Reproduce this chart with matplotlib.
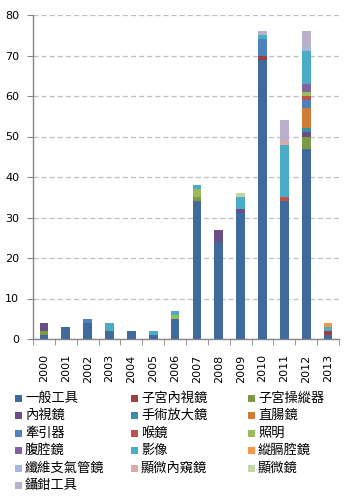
import matplotlib
matplotlib.use("Agg")
import matplotlib.pyplot as plt
import numpy as np
from matplotlib.patches import Rectangle

plt.rcParams['font.family'] = ['Noto Sans CJK TC', 'DejaVu Sans']

years = ['2000', '2001', '2002', '2003', '2004', '2005', '2006',
         '2007', '2008', '2009', '2010', '2011', '2012', '2013']

categories = ['一般工具', '子宮內視鏡', '子宮操縱器', '內視鏡', '手術放大鏡', '直腸鏡',
              '牽引器', '喉鏡', '照明', '腹腔鏡', '影像', '縱膈腔鏡',
              '纖維支氣管鏡', '顯微內窺鏡', '顯微鏡', '鑷鉗工具']

colors = ['#3F6A9B', '#A0403E', '#7E9A47', '#6A4F87', '#3A8EA5', '#D07C36',
          '#4F81BD', '#C0504D', '#9BBB59', '#8064A2', '#4BACC6', '#F79646',
          '#A7B9DB', '#DBA9A8', '#C4D5A8', '#B9B0CC']

# values per category, one entry per year 2000..2013
v_general    = [1, 3, 4, 2, 2, 1, 5, 34, 24, 31, 69, 34, 47, 1]
v_hysteroscope = [0, 0, 0, 0, 0, 0, 0, 0, 0, 0, 1, 0, 0, 1]
v_manipulator = [1, 0, 0, 0, 0, 0, 0, 1, 0, 0, 0, 0, 3, 0]
v_endoscope  = [2, 0, 0, 0, 0, 0, 0, 0, 3, 1, 0, 0, 1, 0]
v_loupe      = [0, 0, 0, 0, 0, 0, 0, 0, 0, 0, 0, 0, 1, 0]
v_proctoscope = [0, 0, 0, 0, 0, 0, 0, 0, 0, 0, 0, 0, 5, 0]
v_retractor  = [0, 0, 1, 0, 0, 0, 0, 0, 0, 0, 4, 0, 2, 0]
v_laryngoscope = [0, 0, 0, 0, 0, 0, 0, 0, 0, 0, 0, 1, 1, 0]
v_lighting   = [0, 0, 0, 0, 0, 0, 1, 2, 0, 0, 0, 0, 1, 0]
v_laparoscope = [0, 0, 0, 0, 0, 0, 0, 0, 0, 0, 0, 0, 2, 0]
v_imaging    = [0, 0, 0, 2, 0, 1, 1, 1, 0, 3, 1, 13, 8, 1]
v_mediastinoscope = [0, 0, 0, 0, 0, 0, 0, 0, 0, 0, 0, 0, 0, 1]
v_bronchoscope = [0, 0, 0, 0, 0, 0, 0, 0, 0, 0, 0, 0, 1, 0]
v_micro_endo = [0, 0, 0, 0, 0, 0, 0, 0, 0, 0, 0, 1, 0, 0]
v_microscope = [0, 0, 0, 0, 0, 0, 0, 0, 0, 1, 0, 0, 0, 0]
v_forceps    = [0, 0, 0, 0, 0, 0, 0, 0, 0, 0, 1, 5, 4, 0]

series = [v_general, v_hysteroscope, v_manipulator, v_endoscope, v_loupe,
          v_proctoscope, v_retractor, v_laryngoscope, v_lighting, v_laparoscope,
          v_imaging, v_mediastinoscope, v_bronchoscope, v_micro_endo,
          v_microscope, v_forceps]

W, H = 346, 497
fig = plt.figure(figsize=(W / 100, H / 100), dpi=100)
ax = fig.add_axes([33 / W, 1 - 339 / H, (339 - 33) / W, (339 - 15) / H])

x = np.arange(len(years))
bottom = np.zeros(len(years))
for vals, col in zip(series, colors):
    vals = np.array(vals, dtype=float)
    ax.bar(x, vals, width=0.4, bottom=bottom, color=col, linewidth=0, zorder=3)
    bottom += vals

ax.set_xlim(-0.5, len(years) - 0.5)
ax.set_ylim(0, 80)
ax.set_yticks(np.arange(0, 81, 10))
ax.yaxis.grid(True, linestyle=(0, (4, 2.5)), color='#BFBFBF', linewidth=0.9, zorder=0)
ax.set_axisbelow(True)

for s in ['top', 'right']:
    ax.spines[s].set_visible(False)
for s in ['left', 'bottom']:
    ax.spines[s].set_color('#868686')
    ax.spines[s].set_linewidth(1.0)

ax.set_xticks(x)
ax.set_xticklabels(years, rotation=90, fontsize=8, family='DejaVu Sans')
ax.set_xticks(np.arange(-0.5, len(years), 1.0), minor=True)
ax.tick_params(axis='x', which='major', length=0, pad=11)
ax.tick_params(axis='x', which='minor', length=4, color='#868686', direction='out')
ax.tick_params(axis='y', length=4, color='#868686', direction='out', labelsize=8, pad=6)
for lbl in ax.get_yticklabels():
    lbl.set_family('DejaVu Sans')

# legend laid out in 3 columns, row-wise order
col_x = [15, 131, 248]
row_y0 = 398
row_dy = 17.5
for i, (name, col) in enumerate(zip(categories, colors)):
    r, c = divmod(i, 3)
    px = col_x[c]
    py = row_y0 + r * row_dy
    fig.patches.append(Rectangle((px / W, 1 - (py + 3.5) / H), 7 / W, 7 / H,
                                 transform=fig.transFigure, facecolor=col,
                                 edgecolor='none'))
    fig.text((px + 10) / W, 1 - py / H, name, fontsize=9.5, va='center',
             ha='left', color='black')

fig.savefig('out.png', dpi=100)
